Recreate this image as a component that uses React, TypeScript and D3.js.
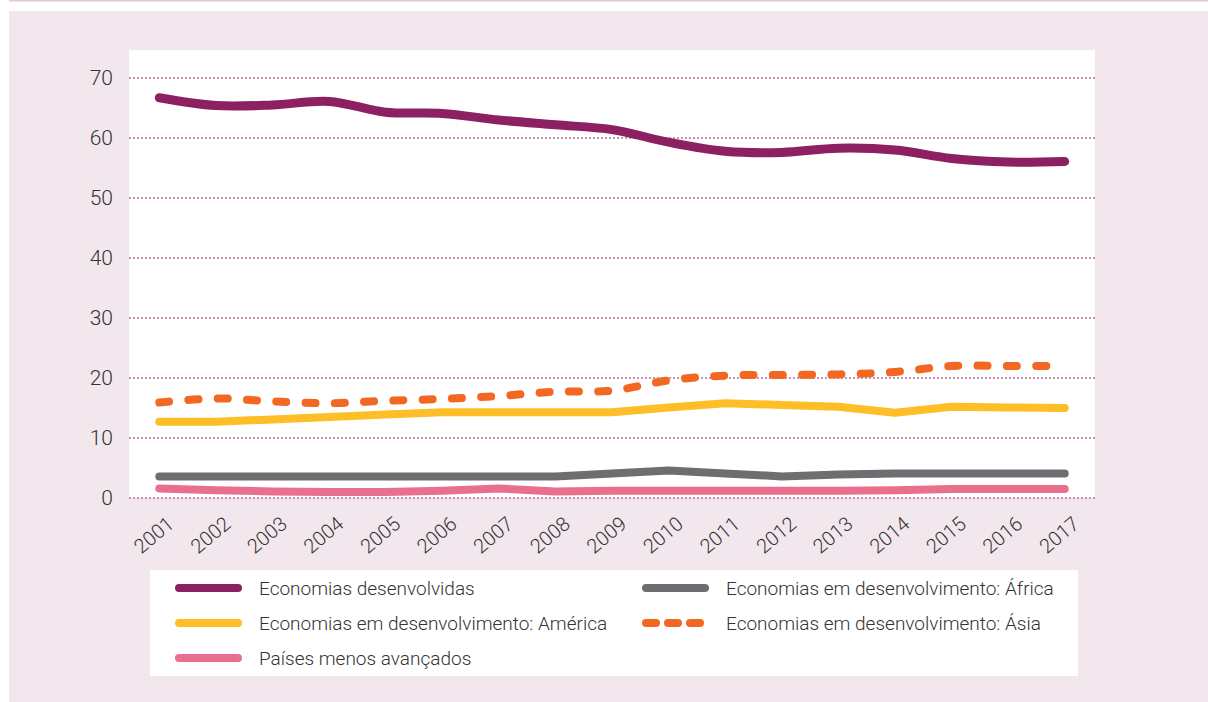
import React from "react";
import * as d3 from "d3";

const years = ["2001","2002","2003","2004","2005","2006","2007","2008","2009","2010","2011","2012","2013","2014","2015","2016","2017"];
const yTicks = [0, 10, 20, 30, 40, 50, 60, 70];

const desenvolvidas = [66.7, 65.4, 65.5, 66.1, 64.3, 64.1, 63.0, 62.2, 61.4, 59.3, 57.8, 57.6, 58.3, 58.0, 56.6, 56.0, 56.1];
const america = [12.7, 12.7, 13.1, 13.5, 13.9, 14.3, 14.3, 14.3, 14.3, 15.1, 15.8, 15.5, 15.2, 14.2, 15.2, 15.1, 15.0];
const africa = [3.6, 3.6, 3.6, 3.6, 3.6, 3.6, 3.6, 3.6, 4.1, 4.6, 4.1, 3.6, 3.9, 4.1, 4.1, 4.1, 4.1];
const asia = [15.9, 16.6, 16.1, 15.8, 16.2, 16.5, 17.0, 17.7, 17.9, 19.6, 20.4, 20.5, 20.6, 21.0, 22.0, 22.0, 22.0];
const pma = [1.6, 1.3, 1.1, 1.0, 1.0, 1.2, 1.6, 1.1, 1.2, 1.2, 1.2, 1.2, 1.2, 1.3, 1.5, 1.5, 1.5];

const seriesNames = [
  "Economias desenvolvidas",
  "Economias em desenvolvimento: América",
  "Países menos avançados",
  "Economias em desenvolvimento: África",
  "Economias em desenvolvimento: Ásia",
];

const FONT = "Roboto, 'Liberation Sans', sans-serif";

export default function App() {
  const plot = { left: 129, right: 1095, top: 50, bottom: 498 };
  const x = d3.scalePoint<string>().domain(years).range([131, 1093]).padding(0.5);
  const y = d3.scaleLinear().domain([0, 70]).range([498, 78]);

  const smooth = d3.line<number>().x((_, i) => x(years[i])!).y((d) => y(d)).curve(d3.curveCatmullRom.alpha(0.5));
  const straight = d3.line<number>().x((_, i) => x(years[i])!).y((d) => y(d));

  const series = [
    { name: seriesNames[0], data: desenvolvidas, color: "#8C2063", width: 9, gen: smooth, dash: undefined },
    { name: seriesNames[1], data: america, color: "#FDBE27", width: 8, gen: straight, dash: undefined },
    { name: seriesNames[2], data: pma, color: "#E9708D", width: 8, gen: straight, dash: undefined },
    { name: seriesNames[3], data: africa, color: "#6D6E71", width: 8, gen: straight, dash: undefined },
    { name: seriesNames[4], data: asia, color: "#F26722", width: 8, gen: smooth, dash: "10 19.3" },
  ];
  const drawOrder = [3, 2, 1, 4, 0];

  const legendPos = [
    { x: 175, y: 588 },
    { x: 175, y: 623 },
    { x: 175, y: 658 },
    { x: 642, y: 588 },
    { x: 642, y: 623 },
  ];

  return (
    <svg width={1208} height={702} style={{ position: "absolute", left: 0, top: 0 }} fontFamily={FONT} fontWeight={300}>
      <rect x={0} y={0} width={1208} height={702} fill="#ffffff" />
      <line x1={9} x2={1208} y1={0.75} y2={0.75} stroke="#E3C6D6" strokeWidth={1.5} />
      <rect x={9} y={11} width={1199} height={691} fill="#F3E7EE" />
      <rect x={plot.left} y={plot.top} width={plot.right - plot.left} height={plot.bottom - plot.top} fill="#ffffff" />
      {yTicks.map((t) => (
        <g key={t}>
          <line x1={plot.left} x2={plot.right} y1={y(t)} y2={y(t)} stroke="#9A2270" strokeWidth={1} strokeDasharray="2 2" />
          <text x={113} y={y(t) + 7} textAnchor="end" fontSize={21} fill="#333333">{t}</text>
        </g>
      ))}
      {years.map((yr) => (
        <text key={yr} transform={`translate(${x(yr)! + 16},${526}) rotate(-40)`} textAnchor="end" fontSize={20} fill="#333333">{yr}</text>
      ))}
      {drawOrder.map((i) => {
        const s = series[i];
        return (
          <path key={s.name} d={s.gen(s.data) || ""} fill="none" stroke={s.color} strokeWidth={s.width}
            strokeLinecap="round" strokeLinejoin="round" strokeDasharray={s.dash} />
        );
      })}
      <rect x={150} y={570} width={928} height={106} fill="#ffffff" />
      {series.map((s, i) => {
        const p = legendPos[i];
        return (
          <g key={s.name}>
            {s.dash ? (
              [0, 1, 2].map((k) => (
                <line key={k} x1={p.x + 4 + k * 22} x2={p.x + 14 + k * 22} y1={p.y} y2={p.y} stroke={s.color}
                  strokeWidth={8} strokeLinecap="round" />
              ))
            ) : (
              <line x1={p.x + 4} x2={p.x + 63} y1={p.y} y2={p.y} stroke={s.color} strokeWidth={8} strokeLinecap="round" />
            )}
            <text x={p.x + 84} y={p.y + 7} fontSize={19} fill="#333333">{s.name}</text>
          </g>
        );
      })}
    </svg>
  );
}
